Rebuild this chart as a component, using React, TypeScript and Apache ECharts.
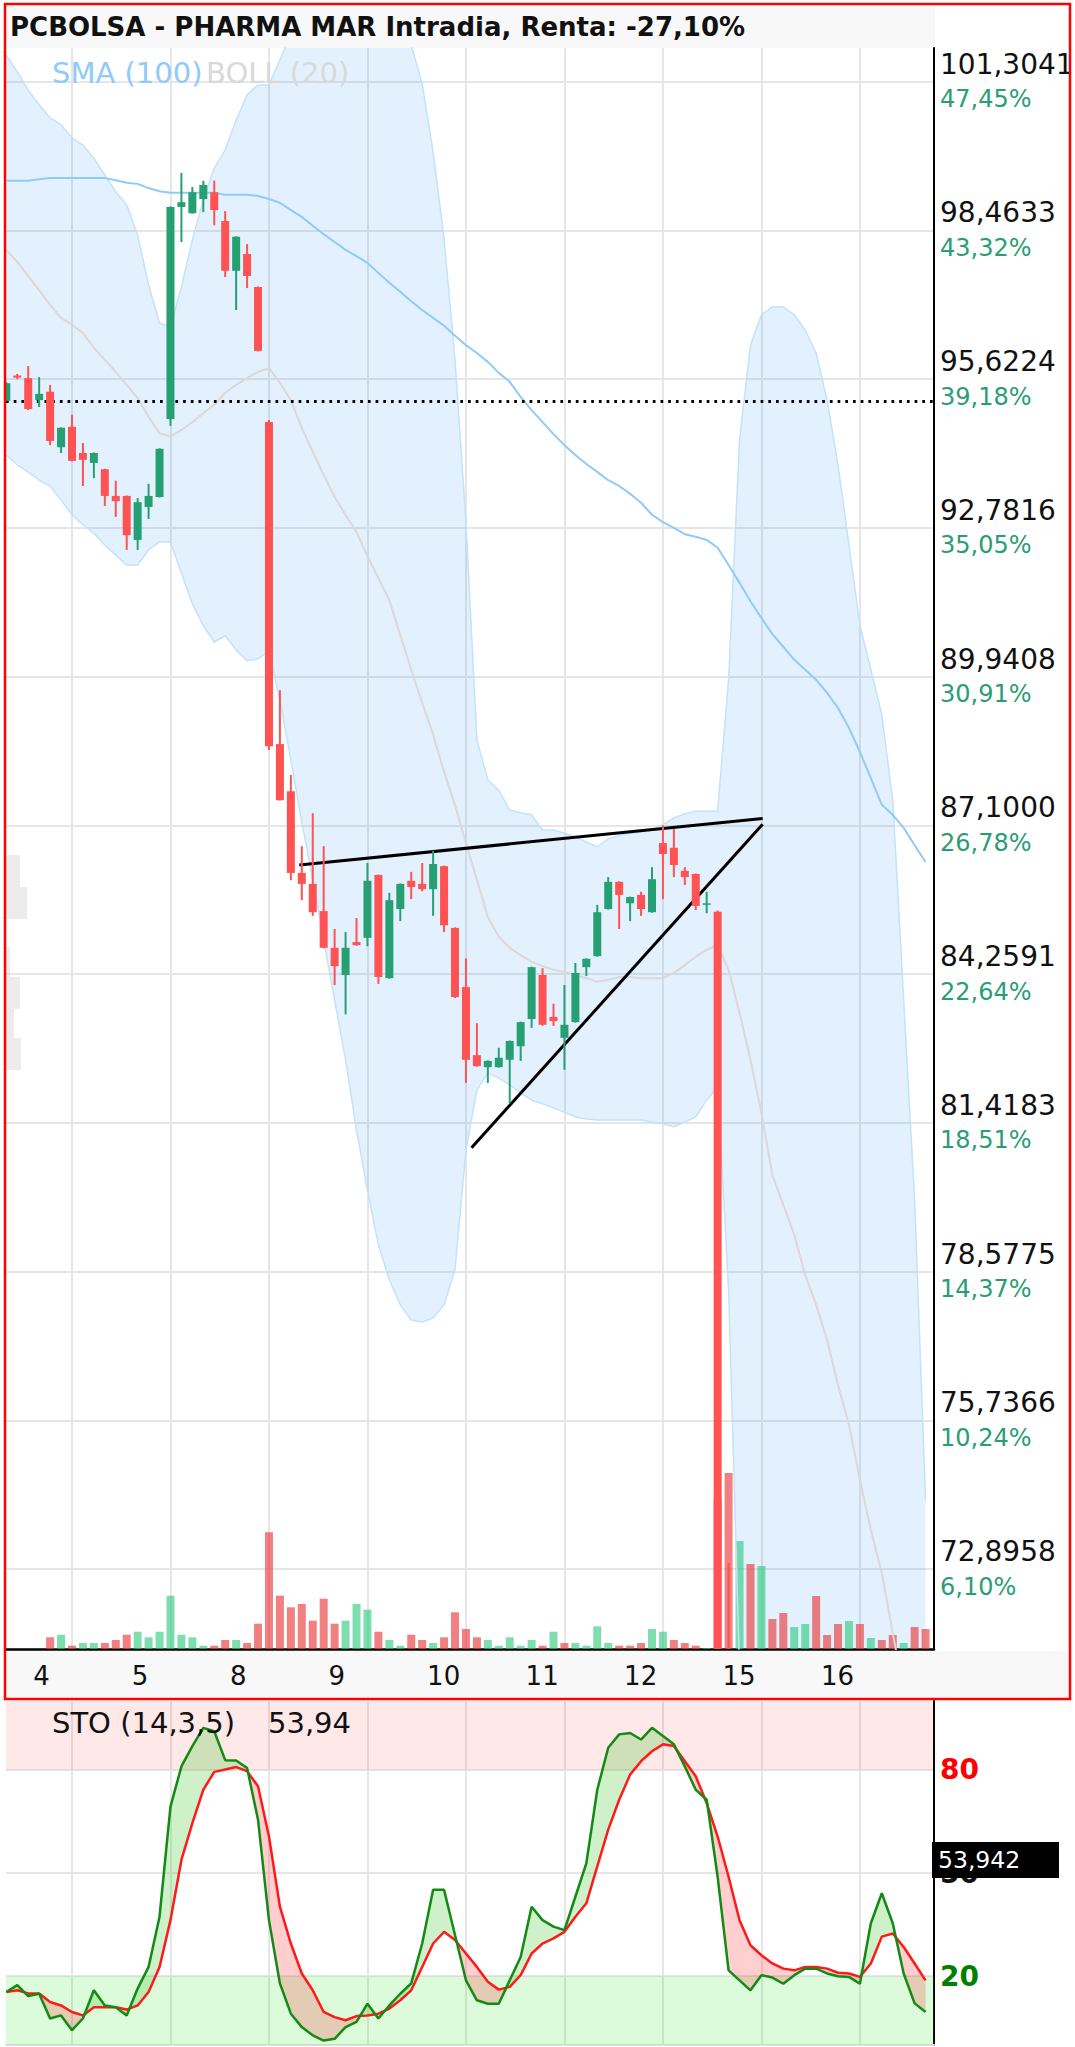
import React, { useEffect, useRef } from 'react';
import * as echarts from 'echarts';

// ---------- DATA ----------
const TITLE = 'PCBOLSA - PHARMA MAR Intradia, Renta: -27,10%';
const dayLabels = ['4', '5', '8', '9', '10', '11', '12', '15', '16'];
const dayStartIdx = [6, 15, 24, 33, 42, 51, 60, 69, 78];
const dayLabelIdx = [2.45, 11.45, 20.45, 29.45, 38.45, 47.45, 56.45, 65.45, 74.45];

const priceTicks = [72.8958, 75.7366, 78.5775, 81.4183, 84.2591, 87.1, 89.9408, 92.7816, 95.6224, 98.4633, 101.3041];
const priceLabels = ['72,8958', '75,7366', '78,5775', '81,4183', '84,2591', '87,1000', '89,9408', '92,7816', '95,6224', '98,4633', '101,3041'];
const pctLabels = ['6,10%', '10,24%', '14,37%', '18,51%', '22,64%', '26,78%', '30,91%', '35,05%', '39,18%', '43,32%', '47,45%'];
const refPrice = 95.2;
const trendLine1 = [[26.77, 86.34], [69.11, 87.23]];
const trendLine2 = [[42.51, 80.94], [69.11, 87.12]];

const opens = [95.21, 95.69, 95.64, 95.22, 95.38, 94.32, 94.71, 94.21, 94.02, 93.90, 93.39, 93.39, 92.55, 93.18, 93.37, 94.86, 98.91, 98.79, 99.06, 99.19, 98.64, 97.69, 98.01, 97.38, 94.80, 88.65, 87.75, 86.19, 85.98, 85.46, 84.76, 84.24, 84.87, 84.95, 86.15, 84.18, 85.50, 86.04, 85.98, 85.88, 86.32, 85.14, 84.01, 82.71, 82.48, 82.48, 82.62, 82.88, 83.40, 84.24, 83.44, 83.04, 83.34, 84.39, 84.60, 85.50, 86.02, 85.61, 85.77, 85.44, 86.76, 86.67, 86.23, 86.17, 85.60, 85.45, 70.20, 69.00, 69.90, 69.30, 69.80, 69.50, 69.20, 69.70, 70.10, 69.60, 69.50, 69.10, 69.50, 69.30, 69.80, 69.60, 69.40, 69.60, 69.40];
const highs = [95.56, 95.72, 95.87, 95.66, 95.51, 94.70, 94.94, 94.40, 94.22, 93.91, 93.68, 93.40, 93.35, 93.62, 94.30, 98.92, 99.56, 99.29, 99.41, 99.41, 98.83, 98.35, 98.20, 97.39, 94.84, 89.68, 88.06, 86.70, 87.33, 86.70, 85.12, 85.06, 85.33, 86.38, 86.16, 85.81, 85.99, 86.21, 86.38, 86.61, 86.33, 85.15, 84.56, 83.32, 82.61, 82.85, 82.99, 83.35, 84.40, 84.37, 83.69, 84.05, 84.47, 84.56, 85.58, 86.11, 86.03, 85.74, 85.83, 86.30, 87.10, 87.03, 86.30, 86.18, 85.83, 85.47, 73.01, 70.40, 70.30, 70.00, 70.10, 69.80, 69.90, 70.30, 70.20, 69.80, 69.60, 69.70, 69.60, 69.90, 70.00, 69.80, 69.70, 69.70, 69.50];
const lows = [95.20, 95.62, 95.03, 95.09, 94.36, 94.21, 94.05, 93.58, 93.73, 93.20, 92.99, 92.36, 92.36, 92.95, 93.36, 94.73, 98.24, 98.78, 98.81, 98.56, 97.57, 96.94, 97.36, 96.15, 88.54, 87.57, 86.05, 85.67, 85.37, 84.75, 84.05, 83.49, 84.80, 84.79, 84.07, 84.17, 85.27, 85.69, 85.84, 85.37, 85.06, 83.80, 82.18, 82.49, 82.18, 82.47, 81.79, 82.60, 83.23, 83.27, 83.27, 82.43, 83.33, 84.22, 84.59, 85.49, 85.12, 85.27, 85.37, 85.43, 85.69, 86.11, 85.96, 85.48, 85.42, 69.80, 68.40, 68.50, 69.00, 69.00, 69.30, 69.00, 69.10, 69.60, 69.40, 69.30, 69.00, 69.00, 69.20, 69.30, 69.50, 69.30, 69.30, 69.30, 69.20];
const closes = [95.54, 95.65, 95.05, 95.34, 94.44, 94.69, 94.06, 94.08, 94.21, 93.39, 93.29, 92.64, 93.27, 93.39, 94.29, 98.91, 99.00, 99.19, 99.33, 98.85, 97.69, 98.34, 97.59, 96.16, 88.61, 87.58, 86.19, 85.98, 85.44, 84.76, 84.41, 84.76, 84.81, 86.04, 84.20, 85.67, 85.98, 85.92, 85.88, 86.36, 85.19, 83.82, 82.62, 82.50, 82.60, 82.66, 82.98, 83.34, 84.39, 83.29, 83.36, 83.29, 84.28, 84.55, 85.44, 86.02, 85.77, 85.73, 85.50, 86.07, 86.55, 86.34, 86.11, 85.56, 85.61, 70.20, 69.00, 69.90, 69.30, 69.80, 69.50, 69.20, 69.70, 70.10, 69.60, 69.50, 69.10, 69.50, 69.30, 69.80, 69.60, 69.40, 69.60, 69.40, 69.35];
const volumes = [0, 0, 0, 0, 11.7, 14.3, 3.3, 6, 6, 6, 9, 14.3, 17.3, 11.7, 17.3, 53.3, 14.3, 11.7, 3.3, 3.3, 9, 9, 6, 25.3, 116.7, 53.3, 41.7, 45, 28.3, 50.3, 25.3, 28.3, 45, 39.3, 17.3, 9, 3.3, 14.3, 9, 6, 11.7, 36.7, 20, 11.7, 9, 3.3, 11.7, 3.3, 9, 3.3, 17.3, 6, 6, 3.3, 22.7, 6, 3.3, 3.3, 6, 20, 17.3, 9, 6, 3.3, 1, 150, 176, 108, 85, 83, 30, 36, 22, 25, 53, 14, 25, 28, 25, 11, 9, 14, 6, 22, 20];

const bollUpper = [101.81, 101.49, 101.14, 100.86, 100.61, 100.48, 100.23, 100.09, 99.84, 99.52, 99.20, 98.95, 98.37, 97.42, 96.69, 96.62, 97.38, 98.28, 99.04, 99.65, 100.00, 100.57, 101.05, 101.24, 101.24, 101.72, 102.19, 102.39, 102.48, 102.58, 102.67, 102.77, 102.77, 102.77, 102.67, 102.58, 102.39, 102.00, 101.26, 99.96, 98.30, 95.99, 92.89, 88.73, 87.97, 87.77, 87.39, 87.34, 87.30, 87.01, 87.01, 86.95, 86.88, 86.78, 86.69, 86.84, 86.90, 86.95, 86.97, 87.01, 87.11, 87.24, 87.32, 87.37, 87.37, 87.37, 89.88, 94.46, 96.27, 96.85, 97.00, 97.00, 96.85, 96.56, 96.12, 95.22, 93.98, 92.45, 90.92, 90.07, 89.21, 87.58, 83.76, 79.94, 74.21];
const bollMid = [98.09, 97.86, 97.59, 97.32, 97.04, 96.79, 96.66, 96.50, 96.22, 95.99, 95.76, 95.51, 95.26, 94.90, 94.59, 94.52, 94.65, 94.80, 94.97, 95.13, 95.36, 95.51, 95.64, 95.76, 95.83, 95.55, 95.22, 94.69, 94.23, 93.79, 93.37, 93.03, 92.70, 92.24, 91.82, 91.40, 90.73, 90.07, 89.44, 88.83, 88.12, 87.49, 86.76, 86.06, 85.35, 84.97, 84.76, 84.62, 84.49, 84.41, 84.34, 84.30, 84.24, 84.18, 84.11, 84.15, 84.20, 84.20, 84.18, 84.18, 84.18, 84.28, 84.43, 84.59, 84.72, 84.81, 84.34, 83.52, 82.62, 81.61, 80.42, 79.85, 79.28, 78.51, 77.94, 77.27, 76.41, 75.65, 74.60, 73.64, 72.82, 71.67, 70.58, 69.63, 68.67];
const bollLower = [94.17, 93.98, 93.85, 93.69, 93.58, 93.31, 93.03, 92.84, 92.68, 92.45, 92.26, 92.07, 92.07, 92.36, 92.51, 92.51, 91.92, 91.33, 90.91, 90.60, 90.72, 90.45, 90.24, 90.28, 90.43, 89.49, 88.35, 87.16, 86.06, 84.91, 83.76, 82.62, 81.28, 80.13, 79.08, 78.42, 77.94, 77.65, 77.61, 77.69, 77.94, 78.61, 80.90, 82.04, 82.37, 82.27, 82.14, 81.99, 81.85, 81.78, 81.70, 81.62, 81.53, 81.49, 81.47, 81.47, 81.47, 81.47, 81.47, 81.43, 81.40, 81.34, 81.43, 81.53, 81.85, 82.10, 78.22, 71.00, 68.96, 66.36, 63.84, 62.70, 61.70, 60.46, 59.76, 59.32, 58.84, 58.84, 58.26, 57.21, 56.43, 55.77, 57.41, 59.32, 63.14];
const sma100 = [99.41, 99.41, 99.41, 99.44, 99.46, 99.46, 99.46, 99.46, 99.46, 99.46, 99.42, 99.37, 99.35, 99.27, 99.21, 99.18, 99.18, 99.18, 99.18, 99.18, 99.14, 99.14, 99.14, 99.12, 99.06, 98.99, 98.85, 98.72, 98.55, 98.39, 98.24, 98.09, 97.97, 97.84, 97.65, 97.46, 97.29, 97.11, 96.94, 96.79, 96.64, 96.45, 96.27, 96.12, 95.95, 95.74, 95.57, 95.28, 95.03, 94.80, 94.57, 94.36, 94.17, 94.00, 93.85, 93.69, 93.58, 93.43, 93.26, 93.03, 92.89, 92.78, 92.66, 92.61, 92.55, 92.40, 92.07, 91.73, 91.38, 91.06, 90.75, 90.51, 90.26, 90.07, 89.88, 89.63, 89.34, 88.96, 88.50, 88.00, 87.49, 87.30, 87.05, 86.72, 86.40];

const stoK = [15.4, 17.4, 14.2, 14.9, 7.7, 8.6, 4.3, 7.7, 15.9, 11.5, 11.0, 8.6, 16.4, 22.7, 37.3, 69.3, 81.0, 86.9, 92.2, 91.2, 82.8, 82.7, 80.5, 65.5, 36.3, 17.9, 9.1, 5.2, 2.8, 1.3, 1.8, 5.2, 6.7, 12.0, 7.7, 11.5, 14.9, 17.9, 29.5, 45.1, 45.1, 32.0, 18.8, 13.0, 12.0, 12.0, 18.8, 25.6, 40.2, 36.3, 34.4, 33.4, 43.1, 52.8, 74.2, 86.4, 90.3, 90.7, 88.8, 92.2, 89.8, 87.4, 81.0, 74.2, 71.3, 48.9, 21.7, 18.8, 15.9, 20.3, 19.6, 17.8, 20.3, 22.2, 22.2, 20.8, 20.0, 19.8, 17.8, 35.4, 44.1, 35.4, 20.8, 12.1, 9.6];
const stoD = [15.4, 15.9, 15.0, 15.0, 12.5, 11.5, 9.6, 8.6, 11.0, 11.0, 11.0, 10.3, 11.5, 15.4, 22.7, 36.3, 53.8, 64.5, 74.2, 79.4, 80.1, 80.8, 79.6, 75.2, 60.6, 40.2, 29.5, 20.8, 15.9, 9.6, 8.1, 7.2, 8.4, 8.6, 9.1, 10.6, 13.0, 15.9, 22.7, 29.5, 32.9, 30.5, 26.6, 22.7, 18.4, 16.1, 16.9, 20.3, 26.6, 29.5, 31.0, 32.9, 37.3, 41.2, 51.9, 62.6, 71.3, 78.6, 82.5, 85.4, 87.4, 86.9, 82.5, 78.1, 70.3, 60.6, 48.9, 36.3, 29.0, 26.1, 23.7, 22.2, 21.7, 22.7, 22.7, 22.2, 21.0, 20.8, 19.8, 23.7, 31.5, 32.4, 28.5, 23.7, 18.8];
const stoLevels = [20, 50, 80];
const stoLevelLabels = ['20', '50', '80'];
const stoTitle = 'STO (14,3,5)';
const stoTitleValue = '53,94';
const stoBoxValue = '53,942';

// ---------- STYLE ----------
const N = closes.length;
const X_MIN = -0.03;
const X_MAX = 84.77;
const P_MIN = 71.368;
const P_MAX = 101.945;
const UP = '#26a073';
const DOWN = '#ff5252';
const VOL_UP = 'rgba(40,200,120,0.6)';
const VOL_DOWN = 'rgba(235,60,60,0.65)';
const GRID_LINE = '#e6e6e6';
const FONT = 'DejaVu Sans';

const near = (arr: number[], v: number) => arr.findIndex((t) => Math.abs(t - v) < 1e-4);

const clipRect = (cs: any) => ({ type: 'rect', shape: { x: cs.x, y: cs.y, width: cs.width, height: cs.height } });

function bandRender(params: any, api: any) {
  const pts: number[][] = [];
  for (let i = 0; i < N; i++) pts.push(api.coord([i, bollUpper[i]]));
  for (let i = N - 1; i >= 0; i--) pts.push(api.coord([i, bollLower[i]]));
  return {
    type: 'polygon',
    shape: { points: pts },
    style: { fill: 'rgba(33,150,243,0.13)' },
    clipPath: clipRect(params.coordSys),
  };
}

function candleRender(params: any, api: any) {
  const i = api.value(0);
  const o = api.value(1), c = api.value(2), l = api.value(3), h = api.value(4);
  const pO = api.coord([i, o]);
  const pC = api.coord([i, c]);
  const pL = api.coord([i, l]);
  const pH = api.coord([i, h]);
  const color = c >= o ? UP : DOWN;
  const w = 8;
  const top = Math.min(pO[1], pC[1]);
  const bot = Math.max(pO[1], pC[1]);
  return {
    type: 'group',
    clipPath: clipRect(params.coordSys),
    children: [
      { type: 'line', shape: { x1: pH[0], y1: pH[1], x2: pL[0], y2: pL[1] }, style: { stroke: color, lineWidth: 2 } },
      { type: 'rect', shape: { x: pO[0] - w / 2, y: top, width: w, height: Math.max(bot - top, 1.5) }, style: { fill: color } },
    ],
  };
}

function stoFillRender(params: any, api: any) {
  const i = api.value(0);
  const k0 = stoK[i], k1 = stoK[i + 1], d0 = stoD[i], d1 = stoD[i + 1];
  const e0 = k0 - d0, e1 = k1 - d1;
  const poly = (pts: number[][], up: boolean) => ({
    type: 'polygon',
    shape: { points: pts.map((p) => api.coord(p)) },
    style: { fill: up ? 'rgba(60,200,40,0.25)' : 'rgba(255,60,60,0.25)' },
  });
  let children: any[];
  if (e0 * e1 >= 0) {
    children = [poly([[i, k0], [i + 1, k1], [i + 1, d1], [i, d0]], e0 + e1 >= 0)];
  } else {
    const t = e0 / (e0 - e1);
    const xm = i + t, ym = k0 + t * (k1 - k0);
    children = [poly([[i, k0], [xm, ym], [i, d0]], e0 > 0), poly([[xm, ym], [i + 1, k1], [i + 1, d1]], e1 > 0)];
  }
  return { type: 'group', children };
}

const line = (data: number[], color: string, width: number, xi: number, yi: number, z: number) => ({
  type: 'line',
  xAxisIndex: xi,
  yAxisIndex: yi,
  data: data.map((v, i) => [i, v]),
  symbol: 'none',
  lineStyle: { color, width },
  z,
  silent: true,
});

const option: any = {
  animation: false,
  backgroundColor: '#ffffff',
  grid: [
    { left: 6, top: 48, width: 928, height: 1601, outerBoundsMode: 'none' },
    { left: 6, top: 1449, width: 928, height: 200, outerBoundsMode: 'none' },
    { left: 6, top: 1701, width: 928, height: 344, outerBoundsMode: 'none' },
  ],
  xAxis: [
    {
      gridIndex: 0, type: 'value', min: X_MIN, max: X_MAX,
      axisLine: { show: true, onZero: false, lineStyle: { color: '#000', width: 2.5 } },
      axisTick: { show: false, customValues: dayStartIdx },
      splitLine: { show: true, lineStyle: { color: GRID_LINE, width: 2 } },
      axisLabel: {
        customValues: dayLabelIdx,
        formatter: (v: number) => { const k = near(dayLabelIdx, v); return k < 0 ? '' : dayLabels[k]; },
        align: 'left', margin: 14, color: '#111', fontFamily: FONT, fontSize: 26,
      },
    },
    { gridIndex: 1, type: 'value', min: X_MIN, max: X_MAX, show: false },
    {
      gridIndex: 2, type: 'value', min: X_MIN, max: X_MAX,
      axisLine: { show: true, onZero: false, lineStyle: { color: '#e0e0e0', width: 2 } },
      axisTick: { show: false, customValues: dayStartIdx },
      splitLine: { show: true, lineStyle: { color: GRID_LINE, width: 2 } },
      axisLabel: { show: false },
    },
  ],
  yAxis: [
    {
      gridIndex: 0, type: 'value', position: 'right', min: P_MIN, max: P_MAX,
      axisLine: { show: true, onZero: false, lineStyle: { color: '#000', width: 2 } },
      axisTick: { show: false, customValues: priceTicks },
      splitLine: { show: true, lineStyle: { color: GRID_LINE, width: 2 } },
      axisLabel: {
        customValues: priceTicks,
        margin: 6,
        formatter: (v: number) => { const k = near(priceTicks, v); return k < 0 ? '' : `{p|${priceLabels[k]}}\n{q|${pctLabels[k]}}`; },
        rich: {
          p: { fontFamily: FONT, fontSize: 28, color: '#111', lineHeight: 35 },
          q: { fontFamily: FONT, fontSize: 24, color: '#2a9d74', lineHeight: 35 },
        },
      },
    },
    { gridIndex: 1, type: 'value', min: 0, max: 200, show: false },
    {
      gridIndex: 2, type: 'value', position: 'right', min: 0, max: 100,
      axisLine: { show: true, onZero: false, lineStyle: { color: '#000', width: 2 } },
      axisTick: { show: false, customValues: stoLevels },
      splitLine: { show: true, lineStyle: { color: GRID_LINE, width: 2 } },
      axisLabel: {
        customValues: stoLevels,
        margin: 6,
        formatter: (v: number) => {
          const k = near(stoLevels, v);
          if (k < 0) return '';
          const s = ['g', 'k', 'r'][k];
          return `{${s}|${stoLevelLabels[k]}}`;
        },
        rich: {
          g: { fontFamily: FONT, fontSize: 28, fontWeight: 'bold', color: '#008000' },
          k: { fontFamily: FONT, fontSize: 28, fontWeight: 'bold', color: '#111' },
          r: { fontFamily: FONT, fontSize: 28, fontWeight: 'bold', color: '#ff0000' },
        },
      },
    },
  ],
  series: [
    {
      type: 'custom', xAxisIndex: 0, yAxisIndex: 0, renderItem: bandRender,
      data: [[0, bollMid[0]]], z: 1, silent: true,
    },
    line(bollUpper, '#c4e2fa', 1.5, 0, 0, 2),
    line(bollLower, '#c4e2fa', 1.5, 0, 0, 2),
    line(bollMid, '#dcd8d5', 2, 0, 0, 2),
    line(sma100, '#90caf9', 2, 0, 0, 2),
    {
      type: 'bar', xAxisIndex: 1, yAxisIndex: 1, barWidth: 8, silent: true, z: 2,
      data: volumes.map((v, i) => ({
        value: [i, v],
        itemStyle: { color: i > 0 && closes[i] < closes[i - 1] ? VOL_DOWN : VOL_UP },
      })),
    },
    {
      type: 'custom', xAxisIndex: 0, yAxisIndex: 0, renderItem: candleRender, z: 5, silent: true,
      encode: { x: 0, y: [1, 2, 3, 4] },
      data: closes.map((c, i) => [i, opens[i], c, lows[i], highs[i]]),
    },
    {
      type: 'line', xAxisIndex: 0, yAxisIndex: 0, data: [[0, refPrice]], symbol: 'none',
      lineStyle: { opacity: 0 }, z: 6, silent: true,
      markLine: {
        silent: true, symbol: ['none', 'none'], label: { show: false }, emphasis: { disabled: true },
        lineStyle: { color: '#000', width: 3, type: 'solid' },
        data: [
          { yAxis: refPrice, lineStyle: { color: '#000', width: 3, type: [2.7, 5] } },
          [{ coord: trendLine1[0] }, { coord: trendLine1[1] }],
          [{ coord: trendLine2[0] }, { coord: trendLine2[1] }],
        ],
      },
    },
    {
      type: 'line', xAxisIndex: 2, yAxisIndex: 2, data: [[0, 50]], symbol: 'none',
      lineStyle: { opacity: 0 }, z: 1, silent: true,
      markArea: {
        silent: true,
        data: [
          [{ yAxis: 80, itemStyle: { color: 'rgba(255,0,0,0.09)' } }, { yAxis: 100 }],
          [{ yAxis: 0, itemStyle: { color: 'rgba(0,230,0,0.14)' } }, { yAxis: 20 }],
        ],
      },
    },
    {
      type: 'custom', xAxisIndex: 2, yAxisIndex: 2, renderItem: stoFillRender,
      data: stoK.slice(0, N - 1).map((v, i) => [i, v]), z: 2, silent: true,
    },
    line(stoD, '#ff1a1a', 2.5, 2, 2, 3),
    line(stoK, '#138a13', 2.5, 2, 2, 4),
  ],
  graphic: {
    elements: [
      { type: 'rect', shape: { x: 7, y: 6, width: 928, height: 42 }, style: { fill: '#f8f8f8' }, z: -10, silent: true },
      { type: 'rect', shape: { x: 7, y: 1651, width: 1061, height: 46 }, style: { fill: '#f8f8f8' }, z: -10, silent: true },
      { type: 'rect', shape: { x: 6, y: 855, width: 14, height: 32 }, style: { fill: 'rgba(200,200,200,0.35)' }, z: 6, silent: true },
      { type: 'rect', shape: { x: 6, y: 887, width: 21, height: 32 }, style: { fill: 'rgba(200,200,200,0.35)' }, z: 6, silent: true },
      { type: 'rect', shape: { x: 6, y: 947, width: 4, height: 30 }, style: { fill: 'rgba(200,200,200,0.35)' }, z: 6, silent: true },
      { type: 'rect', shape: { x: 6, y: 977, width: 14, height: 32 }, style: { fill: 'rgba(200,200,200,0.35)' }, z: 6, silent: true },
      { type: 'rect', shape: { x: 6, y: 1009, width: 8, height: 29 }, style: { fill: 'rgba(200,200,200,0.35)' }, z: 6, silent: true },
      { type: 'rect', shape: { x: 6, y: 1038, width: 15, height: 32 }, style: { fill: 'rgba(200,200,200,0.35)' }, z: 6, silent: true },
      { type: 'text', x: 10, y: 27, z: 10, silent: true, style: { text: TITLE, fontFamily: FONT, fontWeight: 'bold', fontSize: 26, fill: '#111', verticalAlign: 'middle' } },
      { type: 'text', x: 52, y: 73, z: 10, silent: true, style: { text: 'SMA (100)', fontFamily: FONT, fontSize: 29, fill: '#90caf9', verticalAlign: 'middle' } },
      { type: 'text', x: 206, y: 73, z: 10, silent: true, style: { text: 'BOLL (20)', fontFamily: FONT, fontSize: 29, fill: '#d9d9d9', verticalAlign: 'middle' } },
      { type: 'text', x: 52, y: 1723, z: 10, silent: true, style: { text: stoTitle, fontFamily: FONT, fontSize: 29, fill: '#111', verticalAlign: 'middle' } },
      { type: 'text', x: 268, y: 1723, z: 10, silent: true, style: { text: stoTitleValue, fontFamily: FONT, fontSize: 29, fill: '#111', verticalAlign: 'middle' } },
      { type: 'rect', shape: { x: 932, y: 1842, width: 127, height: 36 }, style: { fill: '#000' }, z: 10, silent: true },
      { type: 'text', x: 938, y: 1860, z: 11, silent: true, style: { text: stoBoxValue, fontFamily: FONT, fontSize: 23.5, fill: '#fff', verticalAlign: 'middle' } },
      { type: 'rect', shape: { x: 5, y: 4, width: 1065, height: 1695 }, style: { fill: 'none', stroke: '#ff0000', lineWidth: 2.5 }, z: 20, silent: true },
    ],
  },
};

export default function App() {
  const ref = useRef<HTMLDivElement>(null);
  useEffect(() => {
    document.body.style.margin = '0';
    const chart = echarts.init(ref.current as HTMLDivElement, null, { renderer: 'svg' });
    chart.setOption(option);
    return () => chart.dispose();
  }, []);
  return <div ref={ref} style={{ position: 'absolute', left: 0, top: 0, width: 1075, height: 2047, background: '#fff' }} />;
}
